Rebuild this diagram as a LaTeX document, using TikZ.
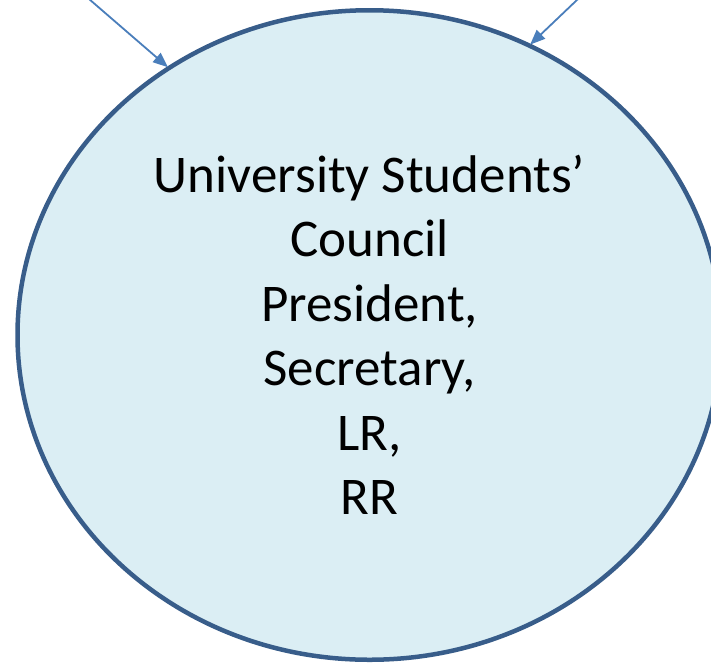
\documentclass[tikz,border=0pt]{standalone}
\usepackage{fontspec}
\setmainfont{Carlito}
\usetikzlibrary{arrows.meta,shapes.geometric}
\definecolor{ringblue}{HTML}{385D8A}
\definecolor{fillblue}{HTML}{DBEEF4}
\definecolor{arrowblue}{HTML}{4A7EBB}
\tikzset{
  council/.style={ellipse, draw=ringblue, fill=fillblue, line width=4.5pt,
    minimum width=704pt, minimum height=649.5pt, inner sep=0pt,
    align=center, font=\fontsize{53}{64.5}\selectfont, text=black},
  feed/.style={draw=arrowblue, line width=1.8pt,
    -{Triangle[length=15pt,width=12pt]}, shorten >=-1pt}
}
\begin{document}
\begin{tikzpicture}[x=1pt,y=-1pt]
\useasboundingbox (0,0) rectangle (711,665);
\clip (0,0) rectangle (711,665);
\node[council] (usc) at (369.5,335) {University Students’\\Council\\President,\\Secretary,\\LR,\\RR};
\coordinate (srcL) at (89,-1);
\coordinate (srcR) at (578,-1);
\draw[feed] (srcL) -- (usc.127.8);
\draw[feed] (srcR) -- (usc.61.3);
\end{tikzpicture}
\end{document}
